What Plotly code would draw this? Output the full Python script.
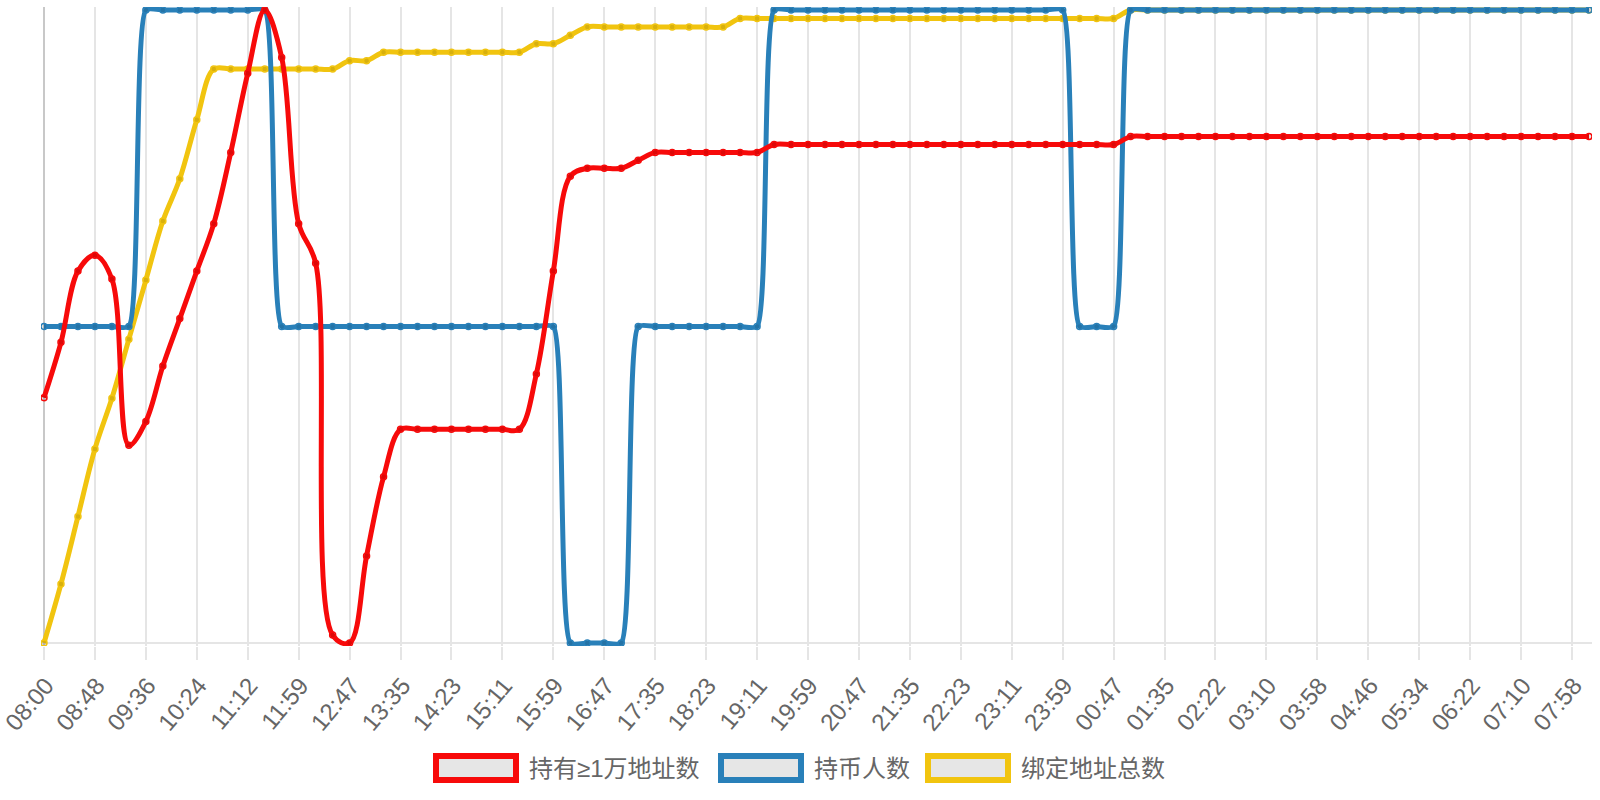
import plotly.graph_objects as go

# x 轴刻度标签(每 3 个采样点一个)
tick_labels = ["08:00", "08:48", "09:36", "10:24", "11:12", "11:59", "12:47", "13:35",
               "14:23", "15:11", "15:59", "16:47", "17:35", "18:23", "19:11", "19:59",
               "20:47", "21:35", "22:23", "23:11", "23:59", "00:47", "01:35", "02:22",
               "03:10", "03:58", "04:46", "05:34", "06:22", "07:10", "07:58"]
tick_step = 3

# 持有≥1万地址数
red_vals = [331, 338, 347, 349, 346, 325, 328, 335, 341, 347,
            353, 362, 372, 380, 374, 353, 348, 301, 300, 311,
            321, 327, 327, 327, 327, 327, 327, 327, 327, 334,
            347, 359, 360, 360, 360, 361, 362, 362, 362, 362,
            362, 362, 362, 363, 363, 363, 363, 363, 363, 363,
            363, 363, 363, 363, 363, 363, 363, 363, 363, 363,
            363, 363, 363, 363, 364, 364, 364, 364, 364, 364,
            364, 364, 364, 364, 364, 364, 364, 364, 364, 364,
            364, 364, 364, 364, 364, 364, 364, 364, 364, 364,
            364, 364]

# 持币人数
blue_vals = [5, 5, 5, 5, 5, 5, 6, 6, 6, 6,
             6, 6, 6, 6, 5, 5, 5, 5, 5, 5,
             5, 5, 5, 5, 5, 5, 5, 5, 5, 5,
             5, 4, 4, 4, 4, 5, 5, 5, 5, 5,
             5, 5, 5, 6, 6, 6, 6, 6, 6, 6,
             6, 6, 6, 6, 6, 6, 6, 6, 6, 6,
             6, 5, 5, 5, 6, 6, 6, 6, 6, 6,
             6, 6, 6, 6, 6, 6, 6, 6, 6, 6,
             6, 6, 6, 6, 6, 6, 6, 6, 6, 6,
             6, 6]

# 绑定地址总数
yellow_vals = [150, 157, 165, 173, 179, 186, 193, 200, 205, 212,
               218, 218, 218, 218, 218, 218, 218, 218, 219, 219,
               220, 220, 220, 220, 220, 220, 220, 220, 220, 221,
               221, 222, 223, 223, 223, 223, 223, 223, 223, 223,
               223, 224, 224, 224, 224, 224, 224, 224, 224, 224,
               224, 224, 224, 224, 224, 224, 224, 224, 224, 224,
               224, 224, 224, 224, 225, 225, 225, 225, 225, 225,
               225, 225, 225, 225, 225, 225, 225, 225, 225, 225,
               225, 225, 225, 225, 225, 225, 225, 225, 225, 225,
               225, 225]

series = [
    ("持有≥1万地址数", red_vals, "#f70a0a", 1.0),
    ("持币人数", blue_vals, "#2980b9", 0.55),
    ("绑定地址总数", yellow_vals, "#f1c40f", 1.0),
]

W, H = 1600, 800
ML, MR, MT, MB = 41, 8, 7, 154
plot_w = W - ML - MR
plot_h = H - MT - MB
pad_px = 3


def px(x):
    return (x - ML) / plot_w


def py(y):
    return (H - MB - y) / plot_h


def padded(vals):
    lo, hi = min(vals), max(vals)
    p = (hi - lo) * pad_px / (plot_h - 2 * pad_px)
    return [lo - p, hi + p]


fig = go.Figure()

# 绘制顺序: 黄 -> 蓝 -> 红(红色在最上层)
axis_of = {"#f1c40f": "y", "#2980b9": "y2", "#f70a0a": "y3"}
for name, vals, color, smooth in reversed(series):
    fig.add_trace(go.Scatter(
        x=list(range(len(vals))), y=vals, name=name, yaxis=axis_of[color],
        mode="lines+markers",
        line=dict(color=color, width=5, shape="spline", smoothing=smooth),
        marker=dict(size=6, color="rgba(0,0,0,0.1)", line=dict(color=color, width=1.5)),
        hoverinfo="skip", showlegend=False,
    ))

n = len(red_vals)
xpad = pad_px * (n - 1) / (plot_w - 2 * pad_px)

fig.update_layout(
    width=W, height=H,
    margin=dict(l=ML, r=MR, t=MT, b=MB),
    plot_bgcolor="white", paper_bgcolor="white",
    showlegend=False,
    xaxis=dict(
        range=[-xpad, n - 1 + xpad],
        tickvals=list(range(0, n, tick_step))[:len(tick_labels)],
        ticktext=tick_labels,
        tickangle=-50,
        tickfont=dict(family="Liberation Sans", size=24, color="#666666"),
        ticklabeloverflow="allow", ticklabelshift=2, ticklabelstandoff=2,
        showgrid=True, gridcolor="#e5e5e5", gridwidth=2,
        zeroline=True, zerolinecolor="#c8c8c8", zerolinewidth=2,
        ticks="outside", ticklen=13, tickwidth=2, tickcolor="#e5e5e5",
        showline=False, fixedrange=True, automargin=False,
    ),
    yaxis=dict(range=padded(yellow_vals), visible=False, fixedrange=True, automargin=False),
    yaxis2=dict(range=padded(blue_vals), visible=False, overlaying="y", fixedrange=True),
    yaxis3=dict(range=padded(red_vals), visible=False, overlaying="y", fixedrange=True),
)

# x 轴底线
fig.add_shape(type="line", xref="paper", x0=0, x1=1, yref="y", y0=min(yellow_vals), y1=min(yellow_vals),
              line=dict(color="#e5e5e5", width=2), layer="below")

# 手绘图例(方框 + 文字)
legend_x = [436, 721, 928]
box_w, box_h, legend_y = 80, 24, 768
for (name, vals, color, smooth), bx in zip(series, legend_x):
    fig.add_shape(type="rect", xref="paper", yref="paper",
                  x0=px(bx), x1=px(bx + box_w),
                  y0=py(legend_y + box_h / 2), y1=py(legend_y - box_h / 2),
                  line=dict(color=color, width=6), fillcolor="#e6e6e6")
    fig.add_annotation(text=name, xref="paper", yref="paper",
                       x=px(bx + box_w + 11), y=py(legend_y),
                       xanchor="left", yanchor="middle", showarrow=False,
                       font=dict(family="Liberation Sans, Noto Sans CJK SC", size=24, color="#666666"))

# 去掉页面默认的 body 边距, 让图表贴齐窗口左上角
fig.write_html("out.html", config={"displayModeBar": False},
               post_script="document.body.style.margin='0';")
